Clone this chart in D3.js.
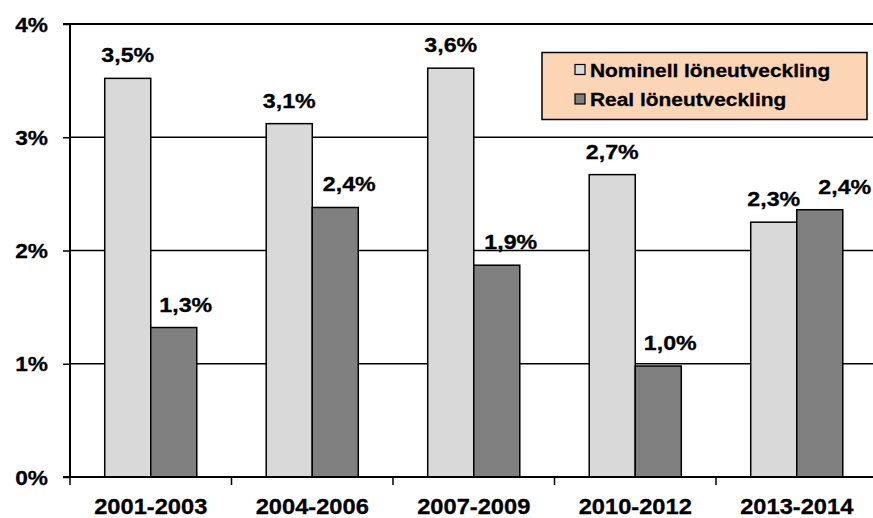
<!DOCTYPE html>
<html>
<head>
<meta charset="utf-8">
<script src="https://cdn.jsdelivr.net/npm/d3@7"></script>
<style>
  html, body { margin: 0; padding: 0; background: #fff; }
  svg { display: block; }
  text { font-family: "Liberation Sans", Arial, sans-serif; font-weight: bold; fill: #000; stroke: #000; stroke-width: 0.3px; }
</style>
</head>
<body>
<svg id="chart" width="873" height="518"></svg>
<script>
// ---- data ----
const categories = ["2001-2003", "2004-2006", "2007-2009", "2010-2012", "2013-2014"];
const seriesNames = ["Nominell löneutveckling", "Real löneutveckling"];
const nominal = [3.52, 3.12, 3.61, 2.67, 2.25];
const real = [1.32, 2.38, 1.87, 0.98, 2.36];
const nominalLabels = ["3,5%", "3,1%", "3,6%", "2,7%", "2,3%"];
const realLabels = ["1,3%", "2,4%", "1,9%", "1,0%", "2,4%"];
const yTicks = [0, 1, 2, 3, 4];
const yTickLabels = ["0%", "1%", "2%", "3%", "4%"];

// ---- layout ----
const svg = d3.select("#chart");
const W = 873, H = 518;
const m = { left: 70, top: 24, bottom: 41, right: -4.5 };
const colors = ["#D9D9D9", "#808080"];
const FONT = '"Liberation Sans", Arial, sans-serif';

const x = d3.scaleBand().domain(categories).range([m.left, W - m.right]).padding(0);
const y = d3.scaleLinear().domain([0, 4]).range([H - m.bottom, m.top]);
const barW = x.bandwidth() * 0.285;

// gridlines
svg.append("g").selectAll("line").data(yTicks.filter(d => d > 0)).join("line")
  .attr("x1", m.left).attr("x2", W)
  .attr("y1", d => y(d)).attr("y2", d => y(d))
  .attr("stroke", "#000").attr("stroke-width", d => d === 4 ? 2 : 1.3);

// bars
const rows = categories.map((c, i) => ({ c, vals: [nominal[i], real[i]], labels: [nominalLabels[i], realLabels[i]], i }));
const groups = svg.append("g").selectAll("g").data(rows).join("g");
groups.selectAll("rect").data(d => d.vals.map((v, k) => ({ v, k, c: d.c }))).join("rect")
  .attr("x", d => x(d.c) + x.bandwidth() / 2 - barW + d.k * barW)
  .attr("y", d => y(d.v))
  .attr("width", barW)
  .attr("height", d => y(0) - y(d.v))
  .attr("fill", d => colors[d.k])
  .attr("stroke", "#000").attr("stroke-width", 1.5);

// data labels
const labelSX = 1.16;
const realNudge = [12, 14, 14, 12, 25];
groups.selectAll("text").data(d => d.vals.map((v, k) => ({ v, k, c: d.c, t: d.labels[k], i: d.i }))).join("text")
  .attr("transform", d => {
    const cx = x(d.c) + x.bandwidth() / 2 - barW / 2 + d.k * barW + (d.k === 1 ? realNudge[d.i] : 0);
    return `translate(${cx},${y(d.v) - 16}) scale(${labelSX},1)`;
  })
  .attr("text-anchor", "middle")
  .style("font-size", "20px")
  .text(d => d.t);

// y axis
const yAxis = d3.axisLeft(y).tickValues(yTicks).tickSize(7).tickFormat((d, i) => yTickLabels[i]);
const gy = svg.append("g").attr("transform", `translate(${m.left},0)`).call(yAxis);
gy.select(".domain").attr("stroke", "#000").attr("stroke-width", 2).attr("d", `M-7,${y(4)}H0V${y(0)}`);
gy.selectAll(".tick line").attr("stroke", "#000").attr("stroke-width", 1.5);
gy.selectAll(".tick text")
  .attr("x", null).attr("dy", null)
  .attr("text-anchor", "end")
  .attr("transform", "translate(-22,7) scale(1.08,1)")
  .style("font-size", "21px")
  .style("font-family", FONT)
  .style("font-weight", "bold");

// x axis
const xAxis = d3.axisBottom(x).tickSize(0).tickSizeOuter(0);
const gx = svg.append("g").attr("transform", `translate(0,${y(0)})`).call(xAxis);
gx.select(".domain").attr("stroke", "#000").attr("stroke-width", 2).attr("d", `M${m.left - 7},0H${W}`);
gx.selectAll(".tick text")
  .attr("y", null).attr("dy", null)
  .attr("transform", "translate(0,37) scale(1.1,1)")
  .style("font-size", "21.5px")
  .style("font-family", FONT)
  .style("font-weight", "bold");
// category separators
svg.append("g").selectAll("line").data(categories).join("line")
  .attr("x1", d => x(d)).attr("x2", d => x(d))
  .attr("y1", y(0)).attr("y2", y(0) + 8)
  .attr("stroke", "#000").attr("stroke-width", 1.5);

// legend
const lg = svg.append("g");
lg.append("rect").attr("x", 542).attr("y", 52.5).attr("width", 325).attr("height", 67)
  .attr("fill", "#FCD5B5").attr("stroke", "#000").attr("stroke-width", 1.5);
seriesNames.forEach((n, k) => {
  const cy = 69.5 + k * 29.5;
  lg.append("rect").attr("x", 575).attr("y", cy - 5).attr("width", 10).attr("height", 10)
    .attr("fill", colors[k]).attr("stroke", "#000").attr("stroke-width", 1.2);
  lg.append("text").attr("transform", `translate(590,${cy + 7}) scale(1.1,1)`)
    .style("font-size", "19px").text(n);
});
</script>
</body>
</html>
